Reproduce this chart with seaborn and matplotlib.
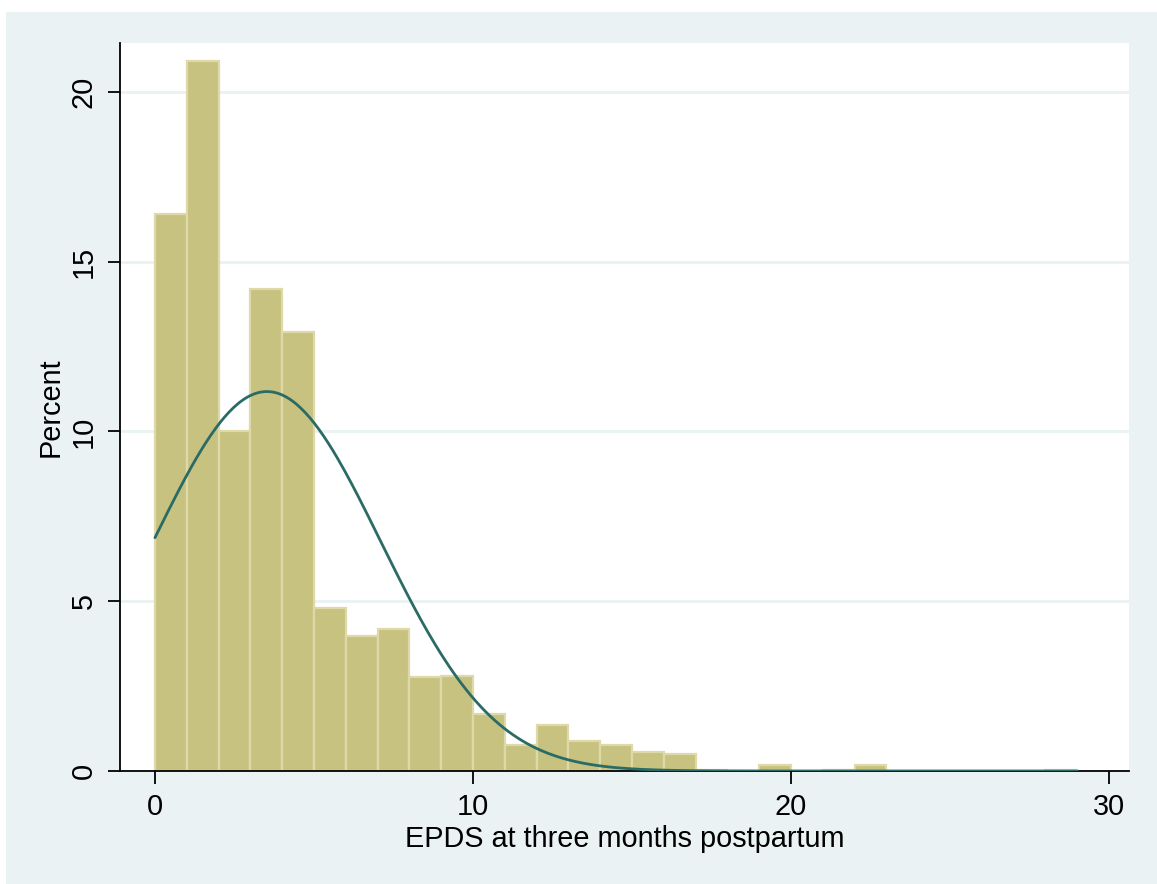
import numpy as np
import pandas as pd
import matplotlib
matplotlib.use("Agg")
import matplotlib.pyplot as plt
from matplotlib.patches import Rectangle
import seaborn as sns

# Histogram data: bins of width 1 from 0 to 29 (percent)
bin_left = list(range(0, 29))
percent = [16.4, 20.9, 10.0, 14.2, 12.93, 4.8, 3.98, 4.18, 2.77, 2.8,
           1.68, 0.77, 1.35, 0.88, 0.77, 0.56, 0.5, 0.03, 0.0, 0.18,
           0.0, 0.03, 0.18, 0.0, 0.0, 0.0, 0.0, 0.0, 0.03]
# Normal overlay parameters
mu = 3.52
sigma = 3.57
xticks = [0, 10, 20, 30]
yticks = [0, 5, 10, 15, 20]

sns.set_theme(style="white")
plt.rcParams['font.family'] = ['Liberation Sans', 'DejaVu Sans']

W, H = 1157, 884
fig = plt.figure(figsize=(W / 100, H / 100), dpi=100)
fig.patch.set_facecolor("white")
fig.add_artist(Rectangle((6 / W, 0), 1 - 6 / W, 1 - 12 / H, transform=fig.transFigure,
                         facecolor="#EAF2F3", edgecolor="none", zorder=0))

ax = fig.add_axes([120 / W, (H - 771) / H, (1129 - 120) / W, (771 - 43) / H])
ax.set_facecolor("white")

df = pd.DataFrame({"x": np.array(bin_left, dtype=float) + 0.5, "w": percent})
sns.histplot(data=df, x="x", weights="w", binwidth=1, binrange=(0, 29), stat="count",
             color="#C8C280", edgecolor="#DDD9A8", linewidth=1.6, alpha=1, ax=ax, zorder=2)

xs = np.linspace(0, 29, 400)
ys = 100 / (sigma * np.sqrt(2 * np.pi)) * np.exp(-(xs - mu) ** 2 / (2 * sigma ** 2))
sns.lineplot(x=xs, y=ys, color="#2B6B66", linewidth=2, ax=ax, zorder=3)

fs = 20.8
ax.set_xlim(-1.1, 30.63)
ax.set_ylim(0, 21.44)
ax.set_xticks(xticks)
ax.set_yticks(yticks)
ax.set_xticklabels([str(t) for t in xticks], fontsize=fs)
ax.set_yticklabels([str(t) for t in yticks], fontsize=fs, rotation=90, va="center")
ax.yaxis.grid(True, color="#EAF2F3", linewidth=2, zorder=1)
ax.set_axisbelow(True)
for s in ["top", "right"]:
    ax.spines[s].set_visible(False)
for s in ["left", "bottom"]:
    ax.spines[s].set_color("black")
    ax.spines[s].set_linewidth(1.3)
ax.tick_params(axis="both", which="major", length=9, width=1.3, color="black",
               direction="out", bottom=True, left=True, pad=7, labelcolor="black")
ax.set_xlabel("EPDS at three months postpartum", fontsize=fs, color="black", labelpad=3)
ax.set_ylabel("Percent", fontsize=fs, color="black", labelpad=4)

fig.savefig("out.png", dpi=100, facecolor=fig.get_facecolor())
